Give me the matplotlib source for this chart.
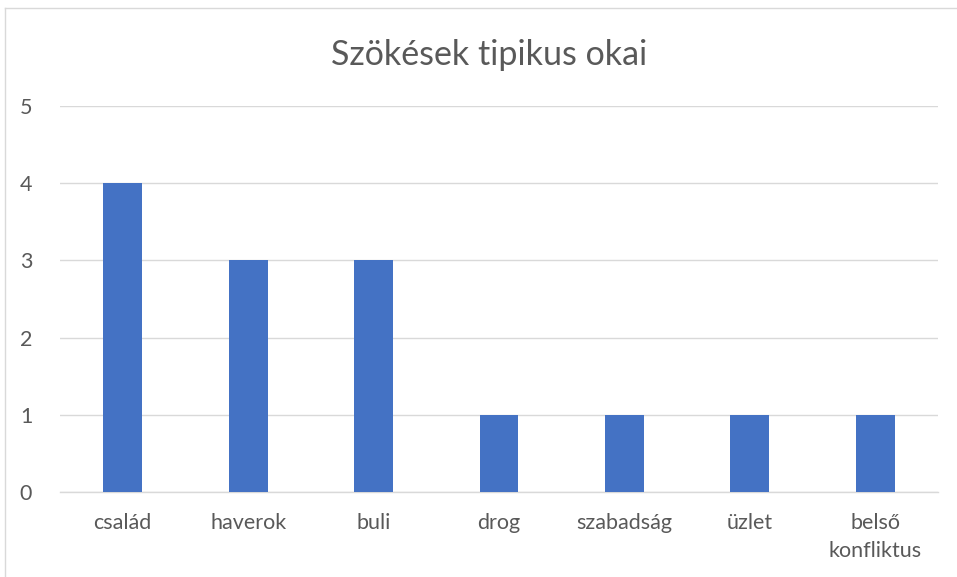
import matplotlib
matplotlib.use("Agg")
import matplotlib.pyplot as plt
from matplotlib.lines import Line2D

categories = ["család", "haverok", "buli", "drog", "szabadság", "üzlet", "belső\nkonfliktus"]
counts = [4, 3, 3, 1, 1, 1, 1]
yticks = [0, 1, 2, 3, 4, 5]
title = "Szökések tipikus okai"

W, H = 957, 577
plt.rcParams["font.family"] = ["Lato", "DejaVu Sans"]

fig = plt.figure(figsize=(W / 100, H / 100), dpi=100)
ax = fig.add_axes([60 / W, 1 - 492 / H, (938 - 60) / W, (492 - 106) / H])

x = range(len(categories))
ax.bar(x, counts, width=0.31, color="#4472c4", zorder=3)
ax.set_xlim(-0.5, len(categories) - 0.5)
ax.set_ylim(0, 5)
ax.set_yticks(yticks)
ax.set_xticks(list(x))
ax.set_xticklabels(categories, fontsize=15.5, color="#595959", linespacing=1.5)
ax.set_yticklabels([str(v) for v in yticks], fontsize=15.5, color="#595959")
ax.tick_params(length=0)
ax.tick_params(axis="x", pad=15)
ax.tick_params(axis="y", pad=20)
ax.grid(axis="y", color="#d9d9d9", linewidth=1, zorder=0)
for s in ["top", "right", "left"]:
    ax.spines[s].set_visible(False)
ax.spines["bottom"].set_color("#d9d9d9")
ax.spines["bottom"].set_linewidth(1)

fig.text(489 / W, 1 - 55 / H, title, ha="center", va="center",
         fontsize=24.5, color="#595959")

# chart frame (left and top edges visible)
fig.add_artist(Line2D([4.5 / W, 4.5 / W], [0, 1 - 7.5 / H], transform=fig.transFigure,
                      color="#d9d9d9", linewidth=1))
fig.add_artist(Line2D([4.5 / W, 1], [1 - 7.5 / H, 1 - 7.5 / H], transform=fig.transFigure,
                      color="#d9d9d9", linewidth=1))

fig.savefig("out.png", dpi=100)
